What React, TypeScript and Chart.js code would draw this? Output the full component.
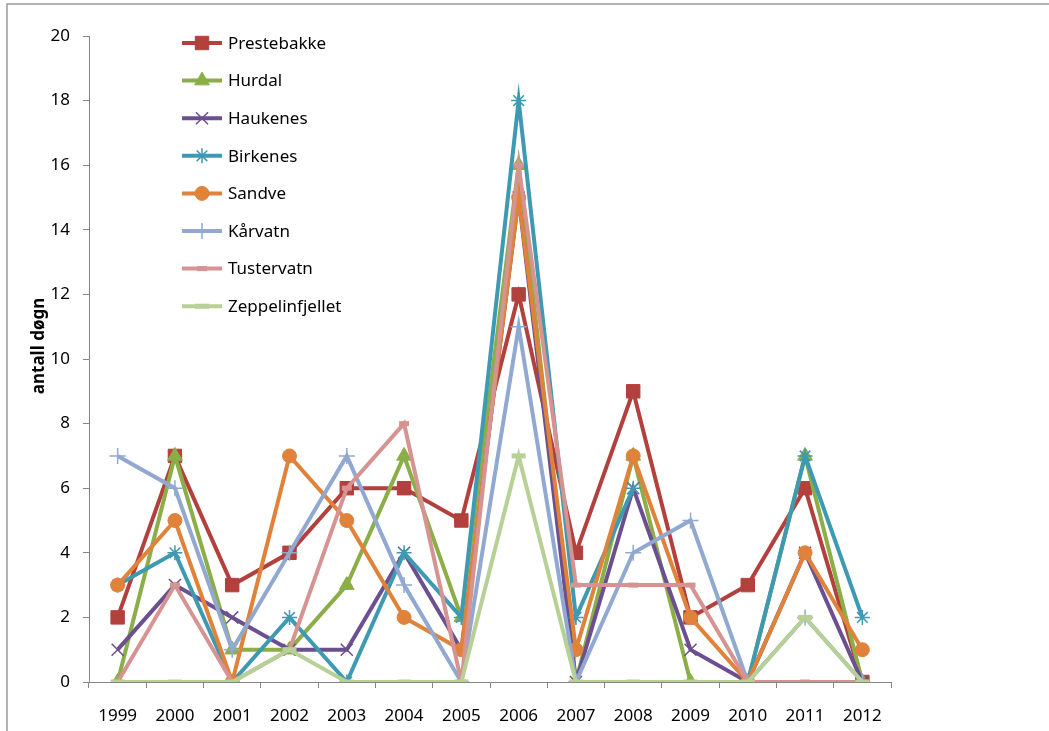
import React, { useEffect, useRef } from 'react';
import { Chart, registerables } from 'chart.js';
import { drawPoint } from 'chart.js/helpers';

Chart.register(...registerables);

const years = ['1999', '2000', '2001', '2002', '2003', '2004', '2005', '2006', '2007', '2008', '2009', '2010', '2011', '2012'];
const seriesNames = ['Prestebakke', 'Hurdal', 'Haukenes', 'Birkenes', 'Sandve', 'Kårvatn', 'Tustervatn', 'Zeppelinfjellet'];
const prestebakke = [2, 7, 3, 4, 6, 6, 5, 12, 4, 9, 2, 3, 6, 0];
const hurdal = [0, 7, 1, 1, 3, 7, 2, 16, 0, 7, 0, 0, 7, 0];
const haukenes = [1, 3, 2, 1, 1, 4, 1, 15, 0, 6, 1, 0, 4, 0];
const birkenes = [3, 4, 0, 2, 0, 4, 2, 18, 2, 6, null, 0, 7, 2];
const sandve = [3, 5, 0, 7, 5, 2, 1, 15, 1, 7, 2, 0, 4, 1];
const karvatn = [7, 6, 1, 4, 7, 3, 0, 11, 0, 4, 5, 0, 2, 0];
const tustervatn = [0, 3, 0, 1, 6, 8, 0, 16, 3, 3, 3, 0, 0, 0];
const zeppelin = [0, 0, 0, 1, 0, 0, 0, 7, 0, 0, 0, 0, 2, 0];
const yMin = 0;
const yMax = 20;
const yStep = 2;
const axisTitle = 'antall døgn';

const seriesData = [prestebakke, hurdal, haukenes, birkenes, sandve, karvatn, tustervatn, zeppelin];
const colors = ['#B2403D', '#8BAE48', '#6B4F91', '#3D9AB2', '#E0823A', '#91A8D1', '#D69392', '#B7D095'];
const pointStyles = ['rect', 'triangle', 'crossRot', 'star', 'circle', 'cross', 'line', 'line'];
const pointRadii = [9.5, 8.5, 8.5, 7.5, 7, 8, 5, 7];
const pointBorders = [1, 1, 1.5, 1.5, 1, 1.5, 5, 5];

const FONT = "'Noto Sans', sans-serif";

const decorPlugin = {
  id: 'decor',
  beforeDraw(chart: any) {
    const ctx = chart.ctx;
    ctx.save();
    ctx.strokeStyle = '#9A9A9A';
    ctx.lineWidth = 1.5;
    ctx.beginPath();
    ctx.moveTo(7, 731);
    ctx.lineTo(7, 4);
    ctx.lineTo(1049, 4);
    ctx.stroke();
    ctx.restore();
  },
  afterDraw(chart: any) {
    const ctx = chart.ctx;
    ctx.save();
    ctx.fillStyle = '#000';
    ctx.font = `bold 17px ${FONT}`;
    ctx.textAlign = 'center';
    ctx.textBaseline = 'middle';
    ctx.translate(39, 346);
    ctx.rotate(-Math.PI / 2);
    ctx.fillText(axisTitle, 0, 0);
    ctx.restore();

    chart.data.datasets.forEach((ds: any, i: number) => {
      const y = 43 + i * 37.6;
      ctx.save();
      ctx.strokeStyle = ds.borderColor;
      ctx.lineWidth = 4;
      ctx.beginPath();
      ctx.moveTo(182, y);
      ctx.lineTo(222, y);
      ctx.stroke();
      ctx.fillStyle = ds.pointBackgroundColor;
      ctx.strokeStyle = ds.pointBorderColor;
      ctx.lineWidth = ds.pointBorderWidth;
      drawPoint(ctx, { pointStyle: ds.pointStyle, rotation: 0, radius: ds.pointRadius, borderWidth: ds.pointBorderWidth }, 202, y);
      ctx.fillStyle = '#000';
      ctx.font = `17px ${FONT}`;
      ctx.textAlign = 'left';
      ctx.textBaseline = 'middle';
      ctx.fillText(ds.label, 228, y + 1);
      ctx.restore();
    });
  },
};

export default function App() {
  const ref = useRef<HTMLCanvasElement>(null);
  useEffect(() => {
    if (!ref.current) return;
    const datasets = seriesNames.map((name, i) => ({
      label: name,
      data: seriesData[i],
      borderColor: colors[i],
      backgroundColor: colors[i],
      pointBackgroundColor: colors[i],
      pointBorderColor: colors[i],
      borderWidth: 4,
      tension: 0,
      pointStyle: pointStyles[i],
      pointRadius: pointRadii[i],
      pointHoverRadius: pointRadii[i],
      pointBorderWidth: pointBorders[i],
      spanGaps: false,
      order: seriesNames.length - 1 - i,
    }));
    const chart = new Chart(ref.current, {
      type: 'line',
      data: { labels: years, datasets },
      options: {
        animation: false,
        responsive: false,
        devicePixelRatio: 1,
        layout: { padding: { top: 36, right: 158, left: 0, bottom: 0 } },
        plugins: { legend: { display: false }, tooltip: { enabled: false } },
        scales: {
          x: {
            type: 'category',
            offset: true,
            grid: { offset: true, drawOnChartArea: false, tickLength: 6, color: '#868686' },
            border: { color: '#868686' },
            ticks: { color: '#000', font: { size: 17, family: FONT }, padding: 18, maxRotation: 0, autoSkip: false },
            afterFit: (s: any) => { s.height = 49; },
          },
          y: {
            min: yMin,
            max: yMax,
            grid: { drawOnChartArea: false, tickLength: 6, color: '#868686' },
            border: { color: '#868686' },
            ticks: { stepSize: yStep, color: '#000', font: { size: 17, family: FONT }, padding: 13 },
            afterFit: (s: any) => { s.width = 89; },
          },
        },
      },
      plugins: [decorPlugin],
    });
    return () => chart.destroy();
  }, []);
  return (
    <div style={{ position: 'absolute', left: 0, top: 0, width: 1049, height: 731, background: '#fff' }}>
      <canvas ref={ref} width={1049} height={731} />
    </div>
  );
}
